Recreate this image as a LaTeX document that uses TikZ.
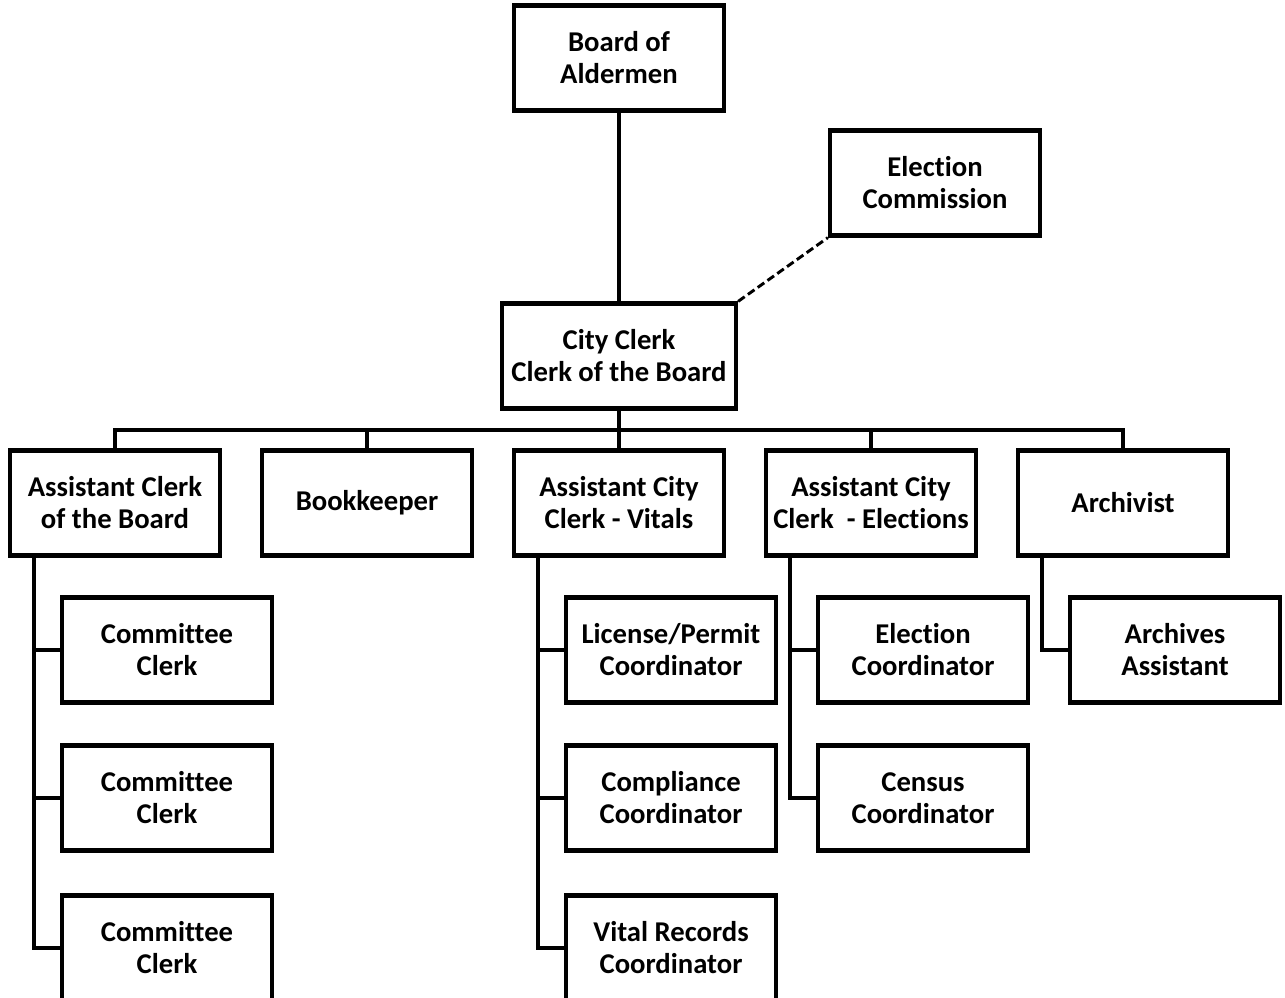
\documentclass[tikz,border=0pt]{standalone}
\usepackage{fontspec}
\setmainfont{Carlito}[Ligatures=NoCommon]
\usepackage{tikz}

\tikzset{
  post/.style={draw, line width=3.2pt, fill=white, minimum width=157.5pt, minimum height=78.75pt,
    inner sep=0.75pt, align=center, font=\bfseries\fontsize{21.5}{24}\selectfont},
  link/.style={line width=3.2pt},
}

\begin{document}
\begin{tikzpicture}[x=0.75pt,y=0.75pt,yscale=-1,xscale=1]
\useasboundingbox (0,0) rectangle (1285,997);

% Top
\node [post] (board) at (619,58) {Board of\\Aldermen};
\node [post] (elect) at (935,183) {Election\\Commission};
\node [post, minimum width=175.5pt] (clerk) at (619,356) {City Clerk\\Clerk of the Board};

% Second row
\node [post] (acb) at (115,503) {Assistant Clerk\\of the Board};
\node [post] (book) at (367,503) {Bookkeeper};
\node [post] (vit) at (619,503) {Assistant City\\Clerk - Vitals};
\node [post] (ele) at (871,503) {Assistant City\\Clerk\ \ - Elections};
\node [post] (arch) at (1123,503) {Archivist};

% Third level
\node [post] (cc1) at (167,650) {Committee\\Clerk};
\node [post] (cc2) at (167,798) {Committee\\Clerk};
\node [post] (cc3) at (167,948) {Committee\\Clerk};
\node [post] (lic) at (671,650) {License/Permit\\Coordinator};
\node [post] (comp) at (671,798) {Compliance\\Coordinator};
\node [post] (vrc) at (671,948) {Vital Records\\Coordinator};
\node [post] (ec) at (923,650) {Election\\Coordinator};
\node [post] (cens) at (923,798) {Census\\Coordinator};
\node [post] (aa) at (1175,650) {Archives\\Assistant};

% Lines
\draw [link] (board) -- (clerk);
\draw [link, dashed, line width=2.2pt, dash pattern=on 6pt off 3pt] (clerk.north east) -- (elect.south west);
\coordinate (bus) at (619,430);
\draw [link] (clerk) -- (vit);
\foreach \n in {acb,book,ele,arch}
  \draw [link] (\n.north) |- (bus);

\foreach \p/\c in {acb/cc1,acb/cc2,acb/cc3,vit/lic,vit/comp,vit/vrc,ele/ec,ele/cens,arch/aa}
  \draw [link] ([xshift=19.5pt]\p.south west) |- (\c.west);

\end{tikzpicture}
\end{document}
